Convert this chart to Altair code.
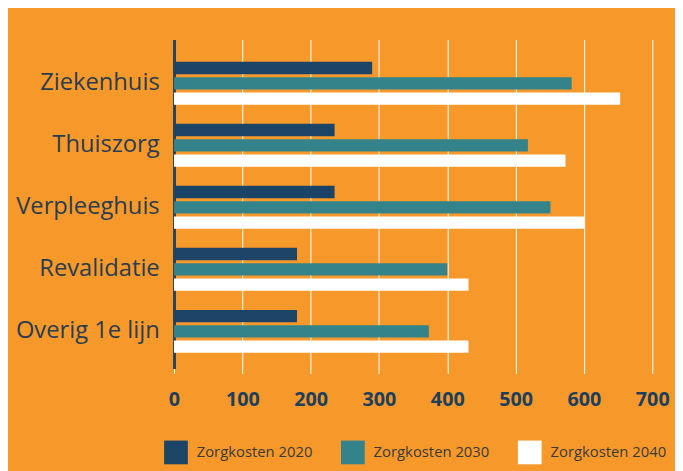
import altair as alt
import pandas as pd

categories = ["Ziekenhuis", "Thuiszorg", "Verpleeghuis", "Revalidatie", "Overig 1e lijn"]
series = ["Zorgkosten 2020", "Zorgkosten 2030", "Zorgkosten 2040"]
values_2020 = [290, 235, 235, 180, 180]
values_2030 = [582, 518, 551, 400, 373]
values_2040 = [653, 573, 600, 431, 431]
x_ticks = [0, 100, 200, 300, 400, 500, 600, 700]
colors = ["#1B4466", "#35838A", "#FFFFFF"]

rows = []
for cat, a, b, c in zip(categories, values_2020, values_2030, values_2040):
    for s, v in zip(series, [a, b, c]):
        rows.append({"categorie": cat, "serie": s, "waarde": v})
df = pd.DataFrame(rows)

FONT = "Open Sans"
BG = "#F7992A"

chart = alt.Chart(df).mark_bar().encode(
    y=alt.Y("categorie:N", sort=categories,
            scale=alt.Scale(paddingInner=0.307, paddingOuter=0.307, align=0.59),
            axis=alt.Axis(title=None, ticks=False, labelFontSize=24, labelColor="#2A3D50",
                          labelFont=FONT, labelPadding=15, domainColor="#2B4358",
                          domainWidth=3, grid=False)),
    yOffset=alt.YOffset("serie:N", sort=series, scale=alt.Scale(paddingInner=0.2)),
    x=alt.X("waarde:Q", scale=alt.Scale(domain=[0, 700], nice=False),
            axis=alt.Axis(title=None, values=x_ticks, labelFontSize=20, labelFontWeight="bold",
                          labelColor="#1D3F5C", labelFont=FONT, labelPadding=16,
                          labelFlush=False,
                          tickColor="#FFFFFF", tickSize=5, domain=False,
                          grid=True, gridColor="#FFFFFF", gridOpacity=0.85, gridWidth=1.2)),
    color=alt.Color("serie:N", sort=series,
                    scale=alt.Scale(domain=series, range=colors),
                    legend=alt.Legend(title=None, orient="none", legendX=-10, legendY=406,
                                      direction="horizontal", columns=3, symbolType="square",
                                      symbolSize=576, symbolStrokeWidth=0, symbolOpacity=1,
                                      labelFontSize=15, labelColor="#3A3A3A", labelFont=FONT,
                                      columnPadding=28, labelOffset=9, labelLimit=220)),
).properties(
    width=484, height=333,
    autosize=alt.AutoSizeParams(type="none"),
    padding={"left": 168, "top": 29, "right": 23, "bottom": 101},
    background=BG,
).configure_view(stroke=None).configure_axis(domainCap="butt")

chart.save("out.html", embed_options={"renderer": "svg", "actions": False})
